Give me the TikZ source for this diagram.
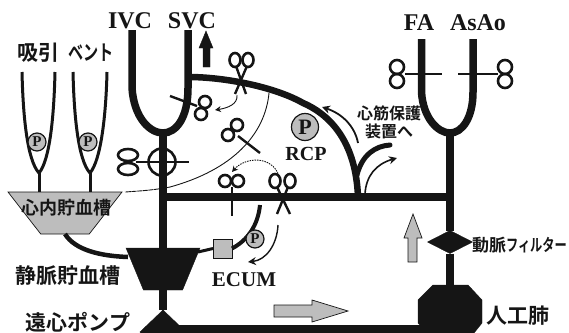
\documentclass[tikz,border=0pt]{standalone}
\usepackage{fontspec}
\setmainfont{Liberation Serif}
\newfontfamily\cjk{Noto Sans CJK JP}[BoldFont={Noto Sans CJK JP Bold}]
\usepackage{xcolor}
\usetikzlibrary{arrows.meta, positioning, calc, shapes.geometric}
\definecolor{inkblack}{HTML}{151515}
\definecolor{dithergray}{HTML}{BDBDBD}

\begin{document}
\begin{tikzpicture}[
    x=1pt, y=-1pt,
    every node/.style={text=inkblack, inner sep=0pt, outer sep=0pt},
    vessel/.style={draw=inkblack, line width=7.5pt},
    branch/.style={draw=inkblack, line width=5pt, line cap=round},
    canula/.style={draw=inkblack, line width=3pt},
    clampbar/.style={draw=inkblack, line width=2.4pt},
    clampring/.style={draw=inkblack, line width=2.6pt},
    thinflow/.style={draw=inkblack, line width=0.9pt},
    flowarrow/.style={draw=inkblack, line width=1.4pt, -{Stealth[length=8pt,width=8pt]}},
    grayarrow/.style={draw=inkblack, line width=0.7pt, fill=dithergray},
    pumpmark/.style={circle, draw=inkblack, line width=1.2pt, fill=dithergray,
                     minimum size=#1, font=\bfseries\fontsize{15}{15}\selectfont},
    latin/.style={font=\bfseries\fontsize{24}{24}\selectfont},
    jplabel/.style={font=\cjk\bfseries\fontsize{21}{21}\selectfont},
    jpsmall/.style={font=\cjk\bfseries\fontsize{16}{16}\selectfont},
    solidpart/.style={fill=inkblack, draw=inkblack},
]
\clip (0,0) rectangle (569,332);

% components
\node[trapezium, shape border rotate=180, trapezium stretches=true,
      trapezium left angle=56, trapezium right angle=56, inner sep=1pt,
      draw=inkblack, line width=0.7pt, fill=dithergray,
      minimum width=114pt, minimum height=42pt] (cardiotomy) at (65,213) {};
\node[trapezium, shape border rotate=180, trapezium stretches=true,
      trapezium left angle=66, trapezium right angle=66, inner sep=1pt, solidpart,
      minimum width=74pt, minimum height=42pt] (venres) at (163,269) {};
\node[diamond, solidpart, minimum width=46pt, minimum height=44pt] (pump) at (163,332) {};
\node[diamond, solidpart, aspect=2, minimum width=45pt, minimum height=23pt] (filter) at (450,242) {};
\draw[solidpart] (433,285) -- (468,285) -- (482,300) -- (482,323) -- (470,338) -- (431,338) -- (418,323) -- (418,300) -- cycle;
\coordinate (oxytop) at (450,285);
\node[draw=inkblack, line width=0.7pt, fill=dithergray, minimum size=19pt] (ecumbox) at (222.5,248.5) {};

\coordinate (ivc)     at (132,30);
\coordinate (svc)     at (188,30);
\coordinate (caval)   at (163,133);
\coordinate (fa)      at (421.5,39);
\coordinate (asao)    at (473,39);
\coordinate (artjoin) at (450,133);
\coordinate (lineL)   at (163,197);
\coordinate (lineR)   at (450,197);
\coordinate (rcpfoot) at (358,197);
\coordinate (pumpout) at (170,329);
\coordinate (oxyin)   at (430,329);

% venous and arterial cannulae
\draw[vessel] (ivc) -- (132,88) .. controls (134,118) and (150,133) .. (caval)
              .. controls (176,133) and (188,118) .. (188,88) -- (svc);
\draw[vessel] (fa) -- (421.5,92) .. controls (423,118) and (438,133) .. (artjoin)
              .. controls (462,133) and (473,118) .. (473,92) -- (asao);
\draw[vessel] (caval) -- (venres.north);
\draw[vessel] (venres.south) -- (pump.north);
\draw[vessel] (artjoin) -- (filter.north);
\draw[vessel] (filter.south) -- (oxytop);
\draw[vessel] (lineL) -- (lineR);
\draw[vessel] (pumpout) -- (oxyin);

% RCP line
\draw[line width=6.5pt, draw=inkblack] (188,77) .. controls (225,77) and (275,87) .. (303,103)
              .. controls (333,116) and (356,145) .. (rcpfoot);
\draw[branch] (357,175) .. controls (362,155) and (375,146) .. (390,145);
\draw[thinflow, line width=1.6pt, -{Stealth[length=8pt,width=8pt]}] (365,194) .. controls (366,176) and (376,164) .. (397,158);
\draw[flowarrow, line width=1.8pt] (358,143) .. controls (355,127) and (343,114) .. (322,107);
\node[pumpmark=27pt, font=\bfseries\fontsize{22}{22}\selectfont] (rcpP) at (305,127) {P};
\node[latin, font=\bfseries\fontsize{20}{20}\selectfont] (rcp) at (306,154) {RCP};
\node[jpsmall] (cardiop) at (389,113) {心筋保護};
\node[jpsmall] (cardiopb) at (389,131) {装置へ};

% suckers
\draw[canula] (22,72) .. controls (23,115) and (27,160) .. (39,173) .. controls (50,160) and (54,115) .. (55,72);
\draw[canula] (73,72) .. controls (74,115) and (78,160) .. (90,173) .. controls (101,160) and (106,115) .. (107,72);
\draw[canula] (39,173) -- (39,192);
\draw[canula] (90,173) -- (90,192);
\node[pumpmark=18pt] (suckP) at (37,142) {P};
\node[pumpmark=18pt] (ventP) at (88,142) {P};

% cardiotomy to venous reservoir, ECUM
\draw[line width=4.5pt, draw=inkblack] (65,234) .. controls (75,250) and (100,256) .. (128,257);
\draw[line width=3pt, draw=inkblack] (ecumbox.west) -- (198,252);
\draw[line width=4pt, draw=inkblack] (ecumbox.east) .. controls (248,240) and (258,225) .. (260,205);
\node[pumpmark=18pt] (ecumP) at (255,239) {P};
\draw[flowarrow] (278,225) .. controls (277,245) and (266,260) .. (248,262);

% thin return line and dotted arrows
\draw[thinflow] (269,93) .. controls (265,135) and (232,170) .. (170,187);
\draw[thinflow, dash pattern=on 5pt off 0.6pt] (170,187) .. controls (155,190) and (140,191) .. (125,192);
\draw[thinflow, -{Stealth[length=6pt,width=6pt]}] (237,95) .. controls (238,104) and (228,108) .. (215,110);
\draw[thinflow, dash pattern=on 1.5pt off 1pt, -{Stealth[length=6pt,width=6pt]}] (279,176) .. controls (272,155) and (245,157) .. (232,172);

% black up arrow
\draw[solidpart] (203,67) -- (203,48) -- (199,48) -- (206,31) -- (213,48) -- (210,48) -- (210,67) -- cycle;

% gray arrows
\draw[grayarrow] (408,262) -- (408,238) -- (404,238) -- (413,214) -- (422,238) -- (417,238) -- (417,262) -- cycle;
\draw[grayarrow] (274,305) -- (312,305) -- (312,300) -- (348,311) -- (312,322) -- (312,317) -- (274,317) -- cycle;

% clamps
\draw[clampbar] (170,96) -- (197,106);
\draw[clampring] (205,102) circle [radius=6pt];
\draw[clampring] (201,114) circle [radius=6pt];
\draw[clampbar] (260,153) -- (238,136);
\draw[clampring] (228,135) circle [radius=6pt];
\draw[clampring] (237,125) circle [radius=6pt];
\draw[clampbar] (136,162) -- (189,162);
\draw[clampring] (128,155) ellipse [x radius=10pt, y radius=6pt];
\draw[clampring] (128,169) ellipse [x radius=10pt, y radius=6pt];
\draw[clampring] (162,162) circle [radius=13.5pt];
\draw[clampbar] (405,74) -- (442,74);
\draw[clampring] (397,67) circle [radius=7pt];
\draw[clampring] (397,81) circle [radius=7pt];
\draw[clampbar] (458,74) -- (498,74);
\draw[clampring] (505,67) circle [radius=7pt];
\draw[clampring] (505,81) circle [radius=7pt];
\draw[clampbar] (232,187) -- (232,216);
\draw[clampring] (225,181) circle [radius=6pt];
\draw[clampring] (238,181) circle [radius=6pt];

% scissors
\draw[clampbar] (236,66) -- (246,94);
\draw[clampbar] (247,66) -- (235,94);
\draw[clampring] (235,60) ellipse [x radius=5.5pt, y radius=7pt];
\draw[clampring] (248,60) ellipse [x radius=5.5pt, y radius=7pt];
\draw[clampbar] (277,187) -- (290,214);
\draw[clampbar] (288,187) -- (277,214);
\draw[clampring] (275,181) ellipse [x radius=5.5pt, y radius=7pt];
\draw[clampring] (290,181) ellipse [x radius=5.5pt, y radius=7pt];

% labels
\node[latin] (ivclabel) at (130,21) {IVC};
\node[latin] (svclabel) at (192,21) {SVC};
\node[latin] (falabel) at (419,23) {FA};
\node[latin] (asaolabel) at (478,23) {AsAo};
\node[jplabel] (suction) at (38,53) {吸引};
\node[jplabel] (vent) at (91,53) {\scalebox{.72}[1]{ベント}};
\node[jplabel, font=\cjk\bfseries\fontsize{18}{18}\selectfont] (cardlabel) at (66,208) {心内貯血槽};
\node[jplabel] (venlabel) at (68,276) {静脈貯血槽};
\node[jplabel] (pumplabel) at (78,322) {遠心ポンプ};
\node[latin, font=\bfseries\fontsize{21}{21}\selectfont] (ecumlabel) at (244,280) {ECUM};
\node[jplabel, font=\cjk\bfseries\fontsize{17}{17}\selectfont, anchor=west] (filterlabel) at (472,245)
    {動脈\scalebox{.72}[1]{フィルター}};
\node[jplabel, anchor=west] (oxylabel) at (486,316) {人工肺};
\end{tikzpicture}
\end{document}
